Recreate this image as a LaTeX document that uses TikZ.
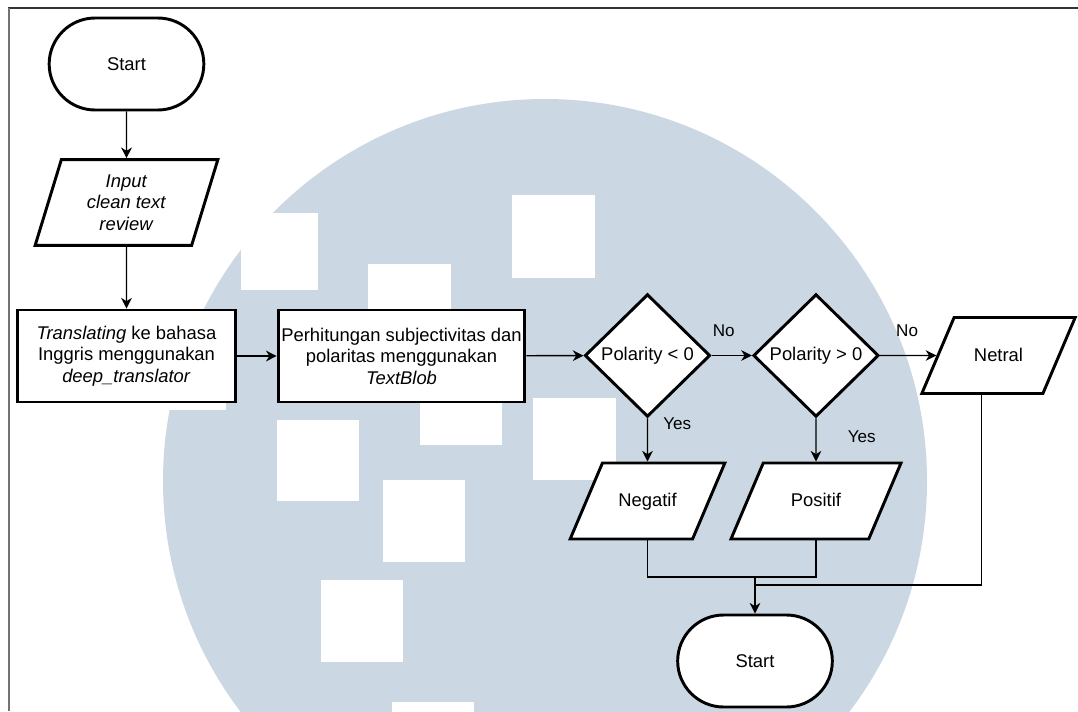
\documentclass[tikz,border=0pt]{standalone}
\usepackage{fontspec}
\setmainfont{Liberation Sans}
\usetikzlibrary{shapes.geometric, arrows.meta, positioning}
\definecolor{wmark}{RGB}{203,216,227}
\begin{document}
\begin{tikzpicture}[x=0.75pt, y=-0.75pt, line width=1.1pt,
  font=\fontsize{13.8}{16.1}\selectfont,
  term/.style = {draw, line width=2.2pt, rounded corners=34.5pt, minimum width=116pt, minimum height=69pt, fill=white},
  io/.style = {draw, line width=2.2pt, trapezium, trapezium left angle=67, trapezium right angle=113, trapezium stretches body, text height=9.5pt, text depth=1pt, inner xsep=2pt, inner ysep=23.25pt, fill=white, align=center},
  proc/.style = {draw, line width=2.2pt, rectangle, minimum height=69pt, fill=white, align=center, inner sep=0pt},
  dec/.style = {draw, line width=2.2pt, diamond, minimum width=94pt, minimum height=92pt, inner sep=0pt, fill=white},
  arr/.style = {-{Stealth[length=8pt, width=8pt, inset=2.5pt]}},
  lbl/.style = {font=\fontsize{12.8}{15}\selectfont}]
	\useasboundingbox (0,0) rectangle (1078,711);
	\clip (0,0) rectangle (1078,711);
	% watermark
	\fill[wmark] (545,481) circle[radius=286.5pt];
	\foreach \a/\b/\c/\d in {241/213/318/290, 512/195/595/278, 368/264/451/345, 420/364/502/445, 277/420/359/501, 383/480/465/562, 533/398/616/480, 321/580/403/662, 392/702/474/784, 148/330/226/410}
		\fill[white] (\a,\b) rectangle (\c,\d);
	\draw[line width=2pt, black!80] (8,8) -- (1078,8);
	\draw[line width=2pt, black!55] (9,8) -- (9,711);
	% flowchart
	\node[term] (s1) at (126.5,64) {Start};
	\node[io, minimum width=137pt, text height=, text depth=, inner ysep=11.2pt, trapezium left angle=73, trapezium right angle=107] (in) at (126.5,202.5) {\textit{Input}\\\textit{clean text}\\\textit{review}};
	\node[proc, minimum width=163pt] (tr) at (126.5,356) {\textit{Translating} ke bahasa\\Inggris menggunakan\\\textit{deep\_translator}};
	\node[proc, minimum width=185pt] (calc) at (401.5,356) {Perhitungan subjectivitas dan\\polaritas menggunakan\\\textit{TextBlob}};
	\node[dec] (d1) at (647.5,355.5) {\makebox[0pt]{Polarity < 0}};
	\node[dec] (d2) at (816,355.5) {\makebox[0pt]{Polarity > 0}};
	\node[io, minimum width=115pt] (net) at (998.5,355.5) {Netral};
	\node[io, minimum width=116pt] (neg) at (647.5,501) {Negatif};
	\node[io, minimum width=127.5pt] (pos) at (816,501) {Positif};
	\node[term] (s2) at (755,661) {Start};
	\coordinate (m1) at (755,577);
	\coordinate (m2) at (755,585);
	\draw[arr] (s1) -- (in);
	\draw[arr] (in) -- (tr);
	\draw[arr] (tr) -- (calc);
	\draw[arr] (calc) -- (d1);
	\draw[arr] (d1) -- node[lbl, pos=0.3, above=10pt] {No} (d2);
	\draw[arr] (d2) -- node[lbl, pos=0.48, above=10pt] {No} (net);
	\draw[arr] (d1) -- node[lbl, pos=0.13, right=8pt] {Yes} (neg);
	\draw[arr] (d2) -- node[lbl, pos=0.43, right=20pt] {Yes} (pos);
	\draw (neg.south) |- (m1) -| (pos.south);
	\draw (net.bottom side) |- (m2);
	\draw[arr] (m1) -- (s2);
\end{tikzpicture}
\end{document}
